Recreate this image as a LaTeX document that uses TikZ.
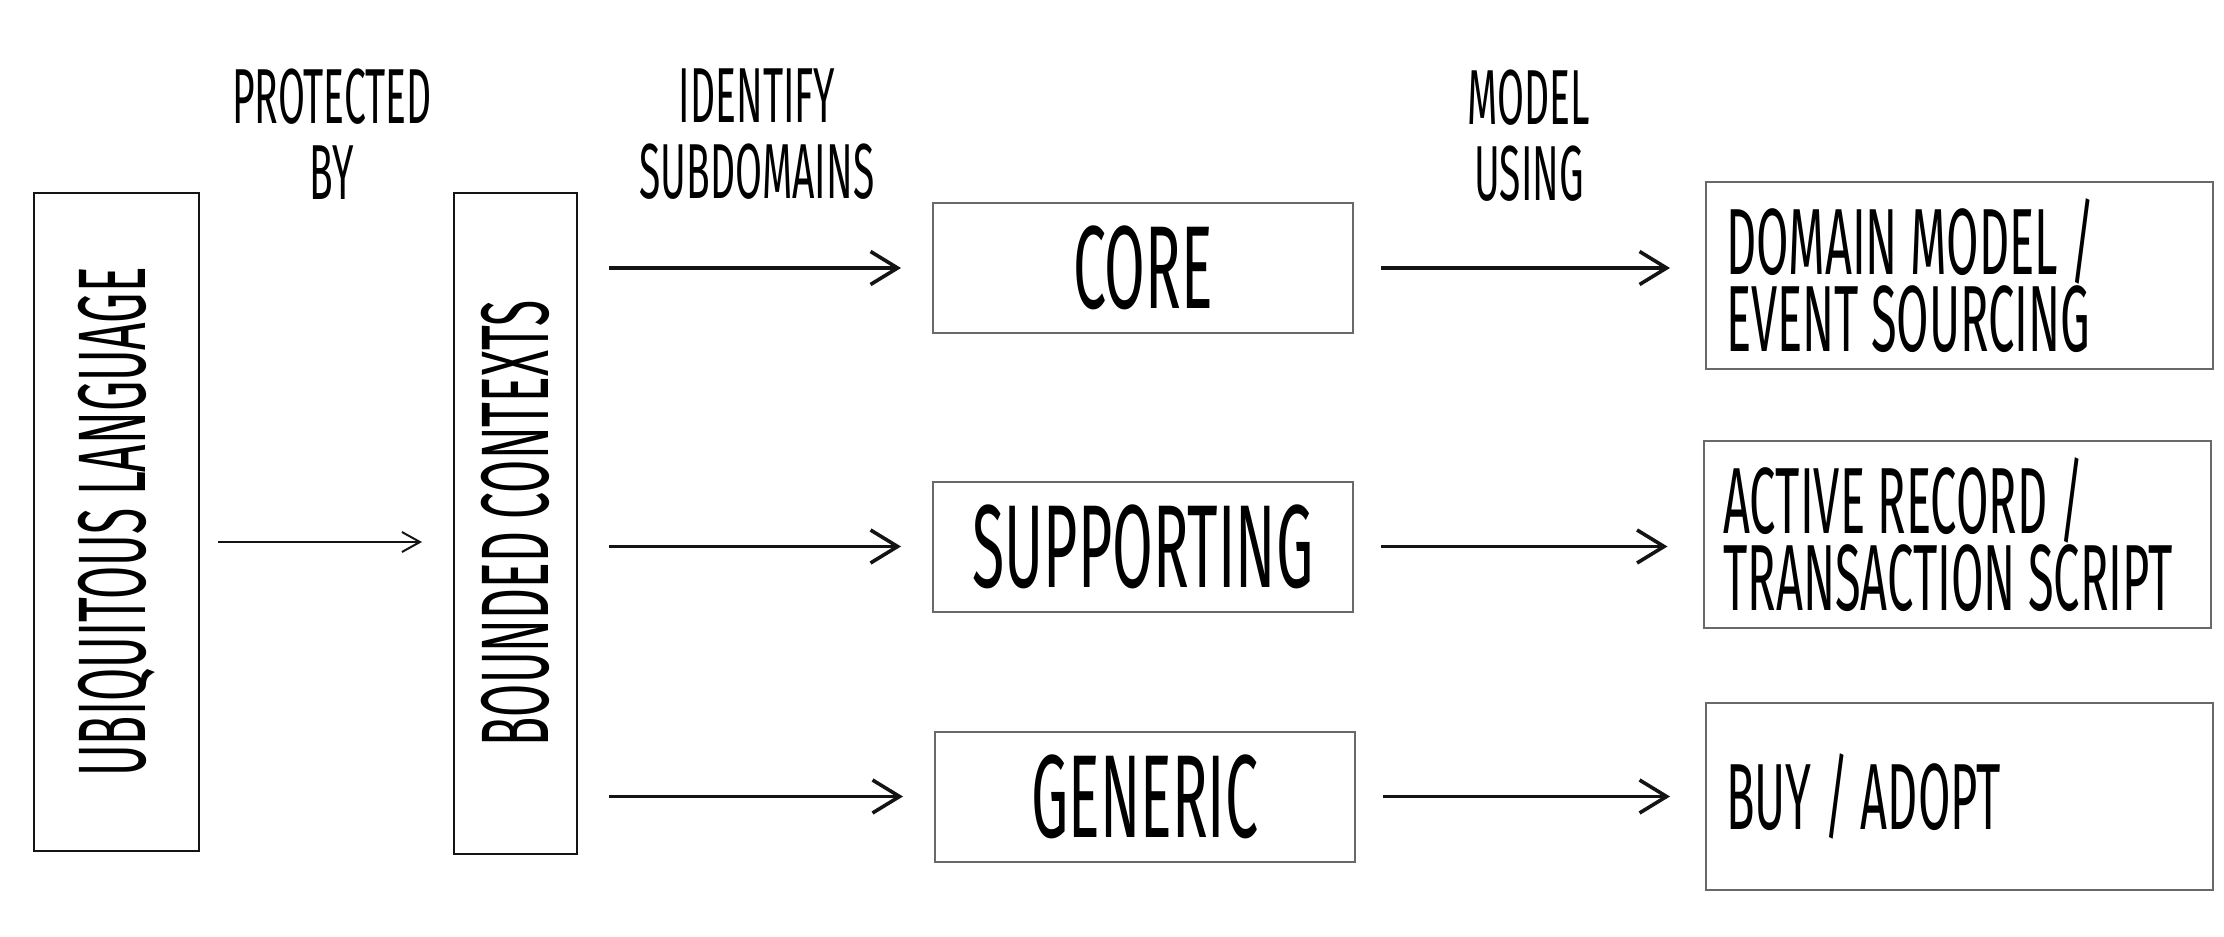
\documentclass[tikz,border=0pt]{standalone}
\usepackage{fontspec}
\setmainfont{Fira Sans}[FakeStretch=0.5]
\usepackage{tikz}
\usetikzlibrary{arrows.meta, positioning, calc}
\definecolor{mydark}{RGB}{20,20,20}
\definecolor{boxgray}{RGB}{105,105,105}
\tikzset{
  tallbox/.style={rectangle, draw=mydark, line width=1pt, inner sep=0pt,
    font=\fontsize{48pt}{50pt}\selectfont},
  subbox/.style={rectangle, draw=boxgray, line width=1pt, inner sep=0pt,
    minimum width=210pt, minimum height=65pt,
    font=\fontsize{59pt}{60pt}\selectfont},
  patbox/.style={rectangle, draw=boxgray, line width=1pt, inner xsep=10pt,
    text width=233.5pt, align=flush left, minimum height=93.5pt,
    font=\fontsize{47pt}{37pt}\selectfont},
  steplabel/.style={align=center, font=\fontsize{39pt}{38pt}\selectfont},
  arrow/.style={-{Straight Barb[length=13.5pt, width=16.5pt]}, line width=1.8pt, color=mydark},
  thinarrow/.style={-{Straight Barb[length=9pt, width=10pt]}, line width=1pt, color=mydark}
}
\begin{document}
\begin{tikzpicture}[x=0.5pt, y=-0.5pt]
  \useasboundingbox (0,0) rectangle (2224,937);

  \node[tallbox, minimum width=82.5pt, minimum height=329pt] (ul) at (116.5,522)
    {\rotatebox{90}{UBIQUITOUS LANGUAGE}};
  \node[tallbox, minimum width=61.5pt, minimum height=330.5pt] (bc) at (515.5,523.5)
    {\rotatebox{90}{BOUNDED CONTEXTS}};

  \node[subbox] (core) at (1143,268) {CORE};
  \node[subbox] (supp) at (1143,546.5) {SUPPORTING};
  \node[subbox] (gen) at (1145,796.5) {GENERIC};

  \node[patbox] (dm) at (1959.5,275.5) {DOMAIN MODEL /\\EVENT SOURCING};
  \node[patbox] (ar) at (1957,534.5) {ACTIVE RECORD /\\TRANSACTION SCRIPT};
  \node[patbox] (buy) at (1959.5,796.5) {BUY / ADOPT};

  \node[steplabel] (prot) at (332,134) {PROTECTED\\BY};
  \node[steplabel] (ident) at (757,134) {IDENTIFY\\SUBDOMAINS};
  \node[steplabel] (model) at (1529,136) {MODEL\\USING};

  % Paths
  \draw[thinarrow, shorten <=9pt, shorten >=15.5pt]
    ([yshift=-10pt]ul.east) -- ([yshift=-10pt]ul.east -| bc.west);
  \draw[arrow, shorten <=15.5pt, shorten >=15.5pt] (bc.east |- core.west) -- (core.west);
  \draw[arrow, shorten <=15.5pt, shorten >=15.5pt] (bc.east |- supp.west) -- (supp.west);
  \draw[arrow, shorten <=15.5pt, shorten >=15.5pt] (bc.east |- gen.west) -- (gen.west);
  \draw[arrow, shorten <=13.5pt, shorten >=17.5pt] (core.east) -- (core.east -| dm.west);
  \draw[arrow, shorten <=13.5pt, shorten >=17.5pt] (supp.east) -- (supp.east -| ar.west);
  \draw[arrow, shorten <=13.5pt, shorten >=17.5pt] (gen.east) -- (gen.east -| buy.west);
\end{tikzpicture}
\end{document}
